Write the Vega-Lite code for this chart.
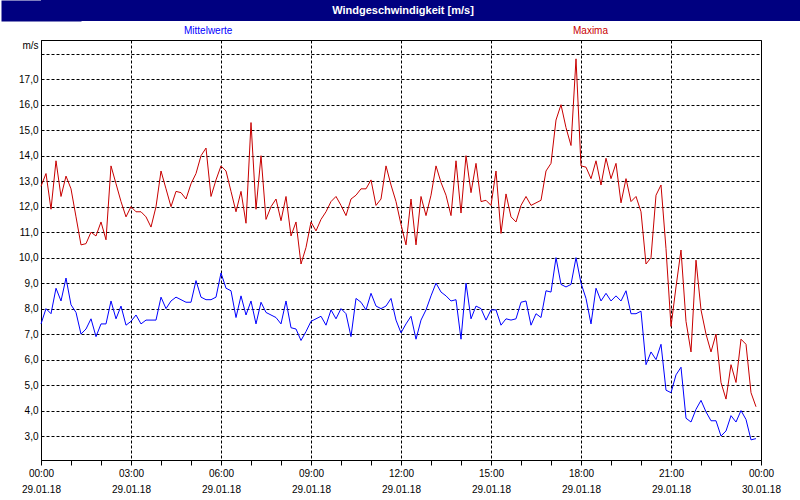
{
  "$schema": "https://vega.github.io/schema/vega-lite/v6.json",
  "background": "white",
  "padding": 0,
  "spacing": 18,
  "config": {"font": "Liberation Sans"},
  "vconcat": [
    {
      "width": 760,
      "height": 21,
      "view": {"fill": "#000080", "stroke": null},
      "data": {"values": [{"titel": "Windgeschwindigkeit [m/s]"}]},
      "mark": {"type": "text", "color": "white", "fontWeight": "bold", "fontSize": 11, "align": "center", "baseline": "middle", "dx": -18},
      "encoding": {
        "text": {"field": "titel"},
        "y": {
          "datum": 0.5,
          "type": "quantitative",
          "scale": {"domain": [0, 1]},
          "axis": {
            "title": null,
            "labels": false,
            "ticks": false,
            "grid": false,
            "domain": true,
            "domainColor": "#000080",
            "domainWidth": 80,
            "minExtent": 0,
            "maxExtent": 40
          }
        }
      }
    },
    {
      "width": 720,
      "height": 420,
      "view": {"stroke": "black", "strokeWidth": 1},
      "data": {"values": [
        {"t":"2018-01-29T00:00","Mittelwerte":7.4,"Maxima":12.8},
        {"t":"2018-01-29T00:10","Mittelwerte":8.0,"Maxima":13.3},
        {"t":"2018-01-29T00:20","Mittelwerte":7.8,"Maxima":11.9},
        {"t":"2018-01-29T00:30","Mittelwerte":8.8,"Maxima":13.8},
        {"t":"2018-01-29T00:40","Mittelwerte":8.3,"Maxima":12.4},
        {"t":"2018-01-29T00:50","Mittelwerte":9.2,"Maxima":13.2},
        {"t":"2018-01-29T01:00","Mittelwerte":8.15,"Maxima":12.7},
        {"t":"2018-01-29T01:10","Mittelwerte":7.85,"Maxima":11.6},
        {"t":"2018-01-29T01:20","Mittelwerte":7.0,"Maxima":10.5},
        {"t":"2018-01-29T01:30","Mittelwerte":7.2,"Maxima":10.55},
        {"t":"2018-01-29T01:40","Mittelwerte":7.6,"Maxima":11.0},
        {"t":"2018-01-29T01:50","Mittelwerte":6.9,"Maxima":10.85},
        {"t":"2018-01-29T02:00","Mittelwerte":7.4,"Maxima":11.4},
        {"t":"2018-01-29T02:10","Mittelwerte":7.4,"Maxima":10.7},
        {"t":"2018-01-29T02:20","Mittelwerte":8.3,"Maxima":13.6},
        {"t":"2018-01-29T02:30","Mittelwerte":7.6,"Maxima":12.9},
        {"t":"2018-01-29T02:40","Mittelwerte":8.1,"Maxima":12.2},
        {"t":"2018-01-29T02:50","Mittelwerte":7.35,"Maxima":11.6},
        {"t":"2018-01-29T03:00","Mittelwerte":7.5,"Maxima":12.0},
        {"t":"2018-01-29T03:10","Mittelwerte":7.75,"Maxima":11.8},
        {"t":"2018-01-29T03:20","Mittelwerte":7.4,"Maxima":11.8},
        {"t":"2018-01-29T03:30","Mittelwerte":7.55,"Maxima":11.6},
        {"t":"2018-01-29T03:40","Mittelwerte":7.55,"Maxima":11.2},
        {"t":"2018-01-29T03:50","Mittelwerte":7.55,"Maxima":12.0},
        {"t":"2018-01-29T04:00","Mittelwerte":8.45,"Maxima":13.4},
        {"t":"2018-01-29T04:10","Mittelwerte":8.0,"Maxima":12.7},
        {"t":"2018-01-29T04:20","Mittelwerte":8.3,"Maxima":12.0},
        {"t":"2018-01-29T04:30","Mittelwerte":8.45,"Maxima":12.6},
        {"t":"2018-01-29T04:40","Mittelwerte":8.35,"Maxima":12.55},
        {"t":"2018-01-29T04:50","Mittelwerte":8.25,"Maxima":12.3},
        {"t":"2018-01-29T05:00","Mittelwerte":8.25,"Maxima":12.9},
        {"t":"2018-01-29T05:10","Mittelwerte":9.1,"Maxima":13.3},
        {"t":"2018-01-29T05:20","Mittelwerte":8.45,"Maxima":14.0},
        {"t":"2018-01-29T05:30","Mittelwerte":8.35,"Maxima":14.3},
        {"t":"2018-01-29T05:40","Mittelwerte":8.35,"Maxima":12.4},
        {"t":"2018-01-29T05:50","Mittelwerte":8.45,"Maxima":13.05},
        {"t":"2018-01-29T06:00","Mittelwerte":9.4,"Maxima":13.6},
        {"t":"2018-01-29T06:10","Mittelwerte":8.8,"Maxima":13.4},
        {"t":"2018-01-29T06:20","Mittelwerte":8.7,"Maxima":12.6},
        {"t":"2018-01-29T06:30","Mittelwerte":7.65,"Maxima":11.8},
        {"t":"2018-01-29T06:40","Mittelwerte":8.5,"Maxima":12.6},
        {"t":"2018-01-29T06:50","Mittelwerte":7.75,"Maxima":11.35},
        {"t":"2018-01-29T07:00","Mittelwerte":8.3,"Maxima":15.3},
        {"t":"2018-01-29T07:10","Mittelwerte":7.4,"Maxima":11.9},
        {"t":"2018-01-29T07:20","Mittelwerte":8.25,"Maxima":14.0},
        {"t":"2018-01-29T07:30","Mittelwerte":7.85,"Maxima":11.5},
        {"t":"2018-01-29T07:40","Mittelwerte":7.75,"Maxima":12.0},
        {"t":"2018-01-29T07:50","Mittelwerte":7.65,"Maxima":12.3},
        {"t":"2018-01-29T08:00","Mittelwerte":7.4,"Maxima":11.45},
        {"t":"2018-01-29T08:10","Mittelwerte":8.3,"Maxima":12.4},
        {"t":"2018-01-29T08:20","Mittelwerte":7.25,"Maxima":10.85},
        {"t":"2018-01-29T08:30","Mittelwerte":7.2,"Maxima":11.4},
        {"t":"2018-01-29T08:40","Mittelwerte":6.75,"Maxima":9.75},
        {"t":"2018-01-29T08:50","Mittelwerte":7.1,"Maxima":10.4},
        {"t":"2018-01-29T09:00","Mittelwerte":7.5,"Maxima":11.4},
        {"t":"2018-01-29T09:10","Mittelwerte":7.6,"Maxima":11.05},
        {"t":"2018-01-29T09:20","Mittelwerte":7.7,"Maxima":11.5},
        {"t":"2018-01-29T09:30","Mittelwerte":7.35,"Maxima":11.8},
        {"t":"2018-01-29T09:40","Mittelwerte":7.95,"Maxima":12.2},
        {"t":"2018-01-29T09:50","Mittelwerte":7.6,"Maxima":12.4},
        {"t":"2018-01-29T10:00","Mittelwerte":8.0,"Maxima":12.05},
        {"t":"2018-01-29T10:10","Mittelwerte":7.8,"Maxima":11.65},
        {"t":"2018-01-29T10:20","Mittelwerte":6.9,"Maxima":12.3},
        {"t":"2018-01-29T10:30","Mittelwerte":8.4,"Maxima":12.45},
        {"t":"2018-01-29T10:40","Mittelwerte":8.25,"Maxima":12.7},
        {"t":"2018-01-29T10:50","Mittelwerte":7.95,"Maxima":12.7},
        {"t":"2018-01-29T11:00","Mittelwerte":8.6,"Maxima":13.05},
        {"t":"2018-01-29T11:10","Mittelwerte":8.1,"Maxima":12.05},
        {"t":"2018-01-29T11:20","Mittelwerte":8.0,"Maxima":12.3},
        {"t":"2018-01-29T11:30","Mittelwerte":8.1,"Maxima":13.6},
        {"t":"2018-01-29T11:40","Mittelwerte":8.4,"Maxima":12.85},
        {"t":"2018-01-29T11:50","Mittelwerte":7.55,"Maxima":12.2},
        {"t":"2018-01-29T12:00","Mittelwerte":7.05,"Maxima":11.3},
        {"t":"2018-01-29T12:10","Mittelwerte":7.4,"Maxima":10.5},
        {"t":"2018-01-29T12:20","Mittelwerte":7.7,"Maxima":12.3},
        {"t":"2018-01-29T12:30","Mittelwerte":6.8,"Maxima":10.5},
        {"t":"2018-01-29T12:40","Mittelwerte":7.55,"Maxima":12.4},
        {"t":"2018-01-29T12:50","Mittelwerte":7.95,"Maxima":11.65},
        {"t":"2018-01-29T13:00","Mittelwerte":8.5,"Maxima":12.45},
        {"t":"2018-01-29T13:10","Mittelwerte":9.0,"Maxima":13.6},
        {"t":"2018-01-29T13:20","Mittelwerte":8.65,"Maxima":12.95},
        {"t":"2018-01-29T13:30","Mittelwerte":8.5,"Maxima":12.45},
        {"t":"2018-01-29T13:40","Mittelwerte":8.3,"Maxima":11.65},
        {"t":"2018-01-29T13:50","Mittelwerte":8.35,"Maxima":13.8},
        {"t":"2018-01-29T14:00","Mittelwerte":6.8,"Maxima":11.75},
        {"t":"2018-01-29T14:10","Mittelwerte":9.0,"Maxima":14.0},
        {"t":"2018-01-29T14:20","Mittelwerte":7.6,"Maxima":12.55},
        {"t":"2018-01-29T14:30","Mittelwerte":8.1,"Maxima":13.7},
        {"t":"2018-01-29T14:40","Mittelwerte":8.0,"Maxima":12.2},
        {"t":"2018-01-29T14:50","Mittelwerte":7.55,"Maxima":12.25},
        {"t":"2018-01-29T15:00","Mittelwerte":7.95,"Maxima":12.05},
        {"t":"2018-01-29T15:10","Mittelwerte":7.95,"Maxima":13.4},
        {"t":"2018-01-29T15:20","Mittelwerte":7.35,"Maxima":10.95},
        {"t":"2018-01-29T15:30","Mittelwerte":7.6,"Maxima":12.5},
        {"t":"2018-01-29T15:40","Mittelwerte":7.55,"Maxima":11.6},
        {"t":"2018-01-29T15:50","Mittelwerte":7.6,"Maxima":11.4},
        {"t":"2018-01-29T16:00","Mittelwerte":8.25,"Maxima":12.05},
        {"t":"2018-01-29T16:10","Mittelwerte":8.3,"Maxima":12.4},
        {"t":"2018-01-29T16:20","Mittelwerte":7.35,"Maxima":12.05},
        {"t":"2018-01-29T16:30","Mittelwerte":7.8,"Maxima":12.15},
        {"t":"2018-01-29T16:40","Mittelwerte":7.65,"Maxima":12.25},
        {"t":"2018-01-29T16:50","Mittelwerte":8.7,"Maxima":13.4},
        {"t":"2018-01-29T17:00","Mittelwerte":8.65,"Maxima":13.7},
        {"t":"2018-01-29T17:10","Mittelwerte":10.0,"Maxima":15.4},
        {"t":"2018-01-29T17:20","Mittelwerte":8.95,"Maxima":16.0},
        {"t":"2018-01-29T17:30","Mittelwerte":8.85,"Maxima":15.1},
        {"t":"2018-01-29T17:40","Mittelwerte":8.95,"Maxima":14.4},
        {"t":"2018-01-29T17:50","Mittelwerte":10.0,"Maxima":17.8},
        {"t":"2018-01-29T18:00","Mittelwerte":9.0,"Maxima":13.6},
        {"t":"2018-01-29T18:10","Mittelwerte":8.4,"Maxima":13.55},
        {"t":"2018-01-29T18:20","Mittelwerte":7.4,"Maxima":13.1},
        {"t":"2018-01-29T18:30","Mittelwerte":8.8,"Maxima":13.8},
        {"t":"2018-01-29T18:40","Mittelwerte":8.3,"Maxima":12.85},
        {"t":"2018-01-29T18:50","Mittelwerte":8.6,"Maxima":13.9},
        {"t":"2018-01-29T19:00","Mittelwerte":8.3,"Maxima":13.1},
        {"t":"2018-01-29T19:10","Mittelwerte":8.5,"Maxima":13.7},
        {"t":"2018-01-29T19:20","Mittelwerte":8.3,"Maxima":12.15},
        {"t":"2018-01-29T19:30","Mittelwerte":8.7,"Maxima":13.1},
        {"t":"2018-01-29T19:40","Mittelwerte":7.8,"Maxima":12.2},
        {"t":"2018-01-29T19:50","Mittelwerte":7.8,"Maxima":12.4},
        {"t":"2018-01-29T20:00","Mittelwerte":7.9,"Maxima":11.8},
        {"t":"2018-01-29T20:10","Mittelwerte":5.8,"Maxima":9.75},
        {"t":"2018-01-29T20:20","Mittelwerte":6.3,"Maxima":10.0},
        {"t":"2018-01-29T20:30","Mittelwerte":6.0,"Maxima":12.45},
        {"t":"2018-01-29T20:40","Mittelwerte":6.6,"Maxima":12.85},
        {"t":"2018-01-29T20:50","Mittelwerte":4.8,"Maxima":10.35},
        {"t":"2018-01-29T21:00","Mittelwerte":4.7,"Maxima":7.3},
        {"t":"2018-01-29T21:10","Mittelwerte":5.4,"Maxima":8.85},
        {"t":"2018-01-29T21:20","Mittelwerte":5.7,"Maxima":10.3},
        {"t":"2018-01-29T21:30","Mittelwerte":3.7,"Maxima":7.5},
        {"t":"2018-01-29T21:40","Mittelwerte":3.55,"Maxima":6.3},
        {"t":"2018-01-29T21:50","Mittelwerte":4.05,"Maxima":9.9},
        {"t":"2018-01-29T22:00","Mittelwerte":4.4,"Maxima":7.95},
        {"t":"2018-01-29T22:10","Mittelwerte":3.95,"Maxima":7.0},
        {"t":"2018-01-29T22:20","Mittelwerte":3.6,"Maxima":6.3},
        {"t":"2018-01-29T22:30","Mittelwerte":3.6,"Maxima":7.0},
        {"t":"2018-01-29T22:40","Mittelwerte":3.0,"Maxima":5.1},
        {"t":"2018-01-29T22:50","Mittelwerte":3.2,"Maxima":4.45},
        {"t":"2018-01-29T23:00","Mittelwerte":3.8,"Maxima":5.8},
        {"t":"2018-01-29T23:10","Mittelwerte":3.55,"Maxima":5.1},
        {"t":"2018-01-29T23:20","Mittelwerte":4.0,"Maxima":6.8},
        {"t":"2018-01-29T23:30","Mittelwerte":3.65,"Maxima":6.6},
        {"t":"2018-01-29T23:40","Mittelwerte":2.85,"Maxima":4.7},
        {"t":"2018-01-29T23:50","Mittelwerte":2.9,"Maxima":4.15}
      ]},
      "transform": [{"fold": ["Mittelwerte", "Maxima"], "as": ["serie", "wert"]}],
      "mark": {"type": "line", "strokeWidth": 1},
      "encoding": {
        "x": {
          "field": "t",
          "type": "temporal",
          "scale": {
            "domain": [
              {"year": 2018, "month": 1, "date": 29, "hours": 0},
              {"year": 2018, "month": 1, "date": 30, "hours": 0}
            ],
            "nice": false
          },
          "axis": {
            "title": null,
            "values": [
              {"year": 2018, "month": 1, "date": 29, "hours": 0},
              {"year": 2018, "month": 1, "date": 29, "hours": 1},
              {"year": 2018, "month": 1, "date": 29, "hours": 2},
              {"year": 2018, "month": 1, "date": 29, "hours": 3},
              {"year": 2018, "month": 1, "date": 29, "hours": 4},
              {"year": 2018, "month": 1, "date": 29, "hours": 5},
              {"year": 2018, "month": 1, "date": 29, "hours": 6},
              {"year": 2018, "month": 1, "date": 29, "hours": 7},
              {"year": 2018, "month": 1, "date": 29, "hours": 8},
              {"year": 2018, "month": 1, "date": 29, "hours": 9},
              {"year": 2018, "month": 1, "date": 29, "hours": 10},
              {"year": 2018, "month": 1, "date": 29, "hours": 11},
              {"year": 2018, "month": 1, "date": 29, "hours": 12},
              {"year": 2018, "month": 1, "date": 29, "hours": 13},
              {"year": 2018, "month": 1, "date": 29, "hours": 14},
              {"year": 2018, "month": 1, "date": 29, "hours": 15},
              {"year": 2018, "month": 1, "date": 29, "hours": 16},
              {"year": 2018, "month": 1, "date": 29, "hours": 17},
              {"year": 2018, "month": 1, "date": 29, "hours": 18},
              {"year": 2018, "month": 1, "date": 29, "hours": 19},
              {"year": 2018, "month": 1, "date": 29, "hours": 20},
              {"year": 2018, "month": 1, "date": 29, "hours": 21},
              {"year": 2018, "month": 1, "date": 29, "hours": 22},
              {"year": 2018, "month": 1, "date": 29, "hours": 23},
              {"year": 2018, "month": 1, "date": 30, "hours": 0}
            ],
            "grid": true,
            "gridColor": "black",
            "gridDash": [3, 2],
            "gridOpacity": {"condition": {"test": "hours(datum.value) % 3 === 0", "value": 1}, "value": 0},
            "domainColor": "black",
            "tickColor": "black",
            "tickSize": 5,
            "labelExpr": "hours(datum.value) % 3 === 0 ? [timeFormat(datum.value, '%H:%M'), timeFormat(datum.value, '%d.%m.%y')] : ''",
            "labelLineHeight": 16,
            "labelBaseline": "top",
            "labelPadding": 3,
            "labelFontSize": 10,
            "labelColor": "black",
            "labelFlush": false,
            "labelOverlap": false
          }
        },
        "y": {
          "field": "wert",
          "type": "quantitative",
          "scale": {"domain": [2.06, 18.54], "nice": false, "zero": false},
          "axis": {
            "title": "m/s",
            "titleAngle": 0,
            "titleAlign": "right",
            "titleBaseline": "middle",
            "titleX": -3,
            "titleY": 5,
            "titleFontWeight": "normal",
            "titleFontSize": 10,
            "titleColor": "black",
            "values": [3, 4, 5, 6, 7, 8, 9, 10, 11, 12, 13, 14, 15, 16, 17, 18],
            "labelExpr": "datum.value >= 18 ? '' : replace(format(datum.value, '.1f'), '.', ',')",
            "ticks": false,
            "labelPadding": 3,
            "labelFontSize": 10,
            "labelColor": "black",
            "grid": true,
            "gridColor": "black",
            "gridDash": [3, 2],
            "domainColor": "black",
            "minExtent": 40,
            "maxExtent": 40
          }
        },
        "color": {
          "field": "serie",
          "type": "nominal",
          "scale": {"domain": ["Mittelwerte", "Maxima"], "range": ["#0000ff", "#c80000"]},
          "legend": {
            "orient": "none",
            "legendX": 133,
            "legendY": 26,
            "direction": "horizontal",
            "title": null,
            "symbolSize": 1,
            "symbolOpacity": 0,
            "symbolStrokeWidth": 0,
            "labelOffset": 0,
            "columnPadding": 330,
            "labelFontSize": 10,
            "encode": {"labels": {"update": {"fill": {"signal": "datum.value === 'Maxima' ? '#c80000' : '#0000ff'"}}}}
          }
        }
      }
    }
  ]
}
